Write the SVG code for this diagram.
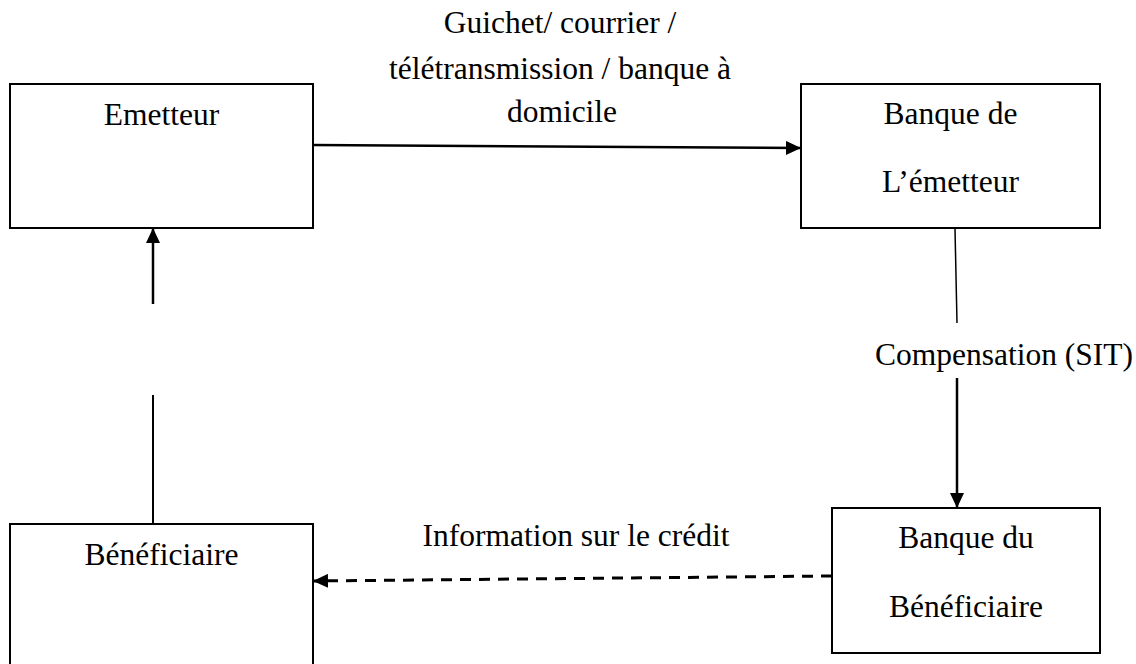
<svg xmlns="http://www.w3.org/2000/svg" width="1136" height="664" viewBox="0 0 1136 664">
<style>
  .box { fill: #ffffff; stroke: #000000; stroke-width: 2; }
  .t { font-family: "Liberation Serif", "Times New Roman", serif; font-size: 31.5px; fill: #000000; text-anchor: middle; }
  .c { stroke: #000000; fill: none; }
</style>
<defs>
  <marker id="ah" markerUnits="userSpaceOnUse" markerWidth="16" markerHeight="14" refX="15" refY="7" orient="auto">
    <path d="M0,0 L15,7 L0,14 z" fill="#000000"/>
  </marker>
</defs>
<rect width="1136" height="664" fill="#ffffff"/>
<g id="emetteur">
  <rect class="box" x="10" y="84" width="303" height="144"/>
  <text class="t" x="161.5" y="125">Emetteur</text>
</g>
<g id="banque-emetteur">
  <rect class="box" x="801" y="84" width="299" height="144"/>
  <text class="t" x="950.5" y="124">Banque de</text>
  <text class="t" x="950.5" y="192">L’émetteur</text>
</g>
<g id="beneficiaire">
  <rect class="box" x="10" y="524" width="303" height="143"/>
  <text class="t" x="161.5" y="565">Bénéficiaire</text>
</g>
<g id="banque-beneficiaire">
  <rect class="box" x="832" y="508" width="268" height="145"/>
  <text class="t" x="966" y="548">Banque du</text>
  <text class="t" x="966" y="617">Bénéficiaire</text>
</g>
<g id="connectors">
  <line class="c" x1="313" y1="145" x2="801" y2="148" stroke-width="2.5" marker-end="url(#ah)"/>
  <line class="c" x1="955" y1="229" x2="957" y2="323" stroke-width="1.5"/>
  <line class="c" x1="957" y1="378" x2="957" y2="508" stroke-width="2.5" marker-end="url(#ah)"/>
  <line class="c" x1="832" y1="576" x2="313" y2="581" stroke-width="3" stroke-dasharray="11 8" marker-end="url(#ah)"/>
  <line class="c" x1="153" y1="304" x2="153" y2="228" stroke-width="2.5" marker-end="url(#ah)"/>
  <line class="c" x1="153" y1="395" x2="153" y2="524" stroke-width="2"/>
</g>
<g id="labels">
  <text class="t" x="560" y="33">Guichet/ courrier /</text>
  <text class="t" x="560" y="79">télétransmission / banque à</text>
  <text class="t" x="562" y="122">domicile</text>
  <text class="t" x="1004" y="365">Compensation (SIT)</text>
  <text class="t" x="576" y="546">Information sur le crédit</text>
</g>
</svg>
